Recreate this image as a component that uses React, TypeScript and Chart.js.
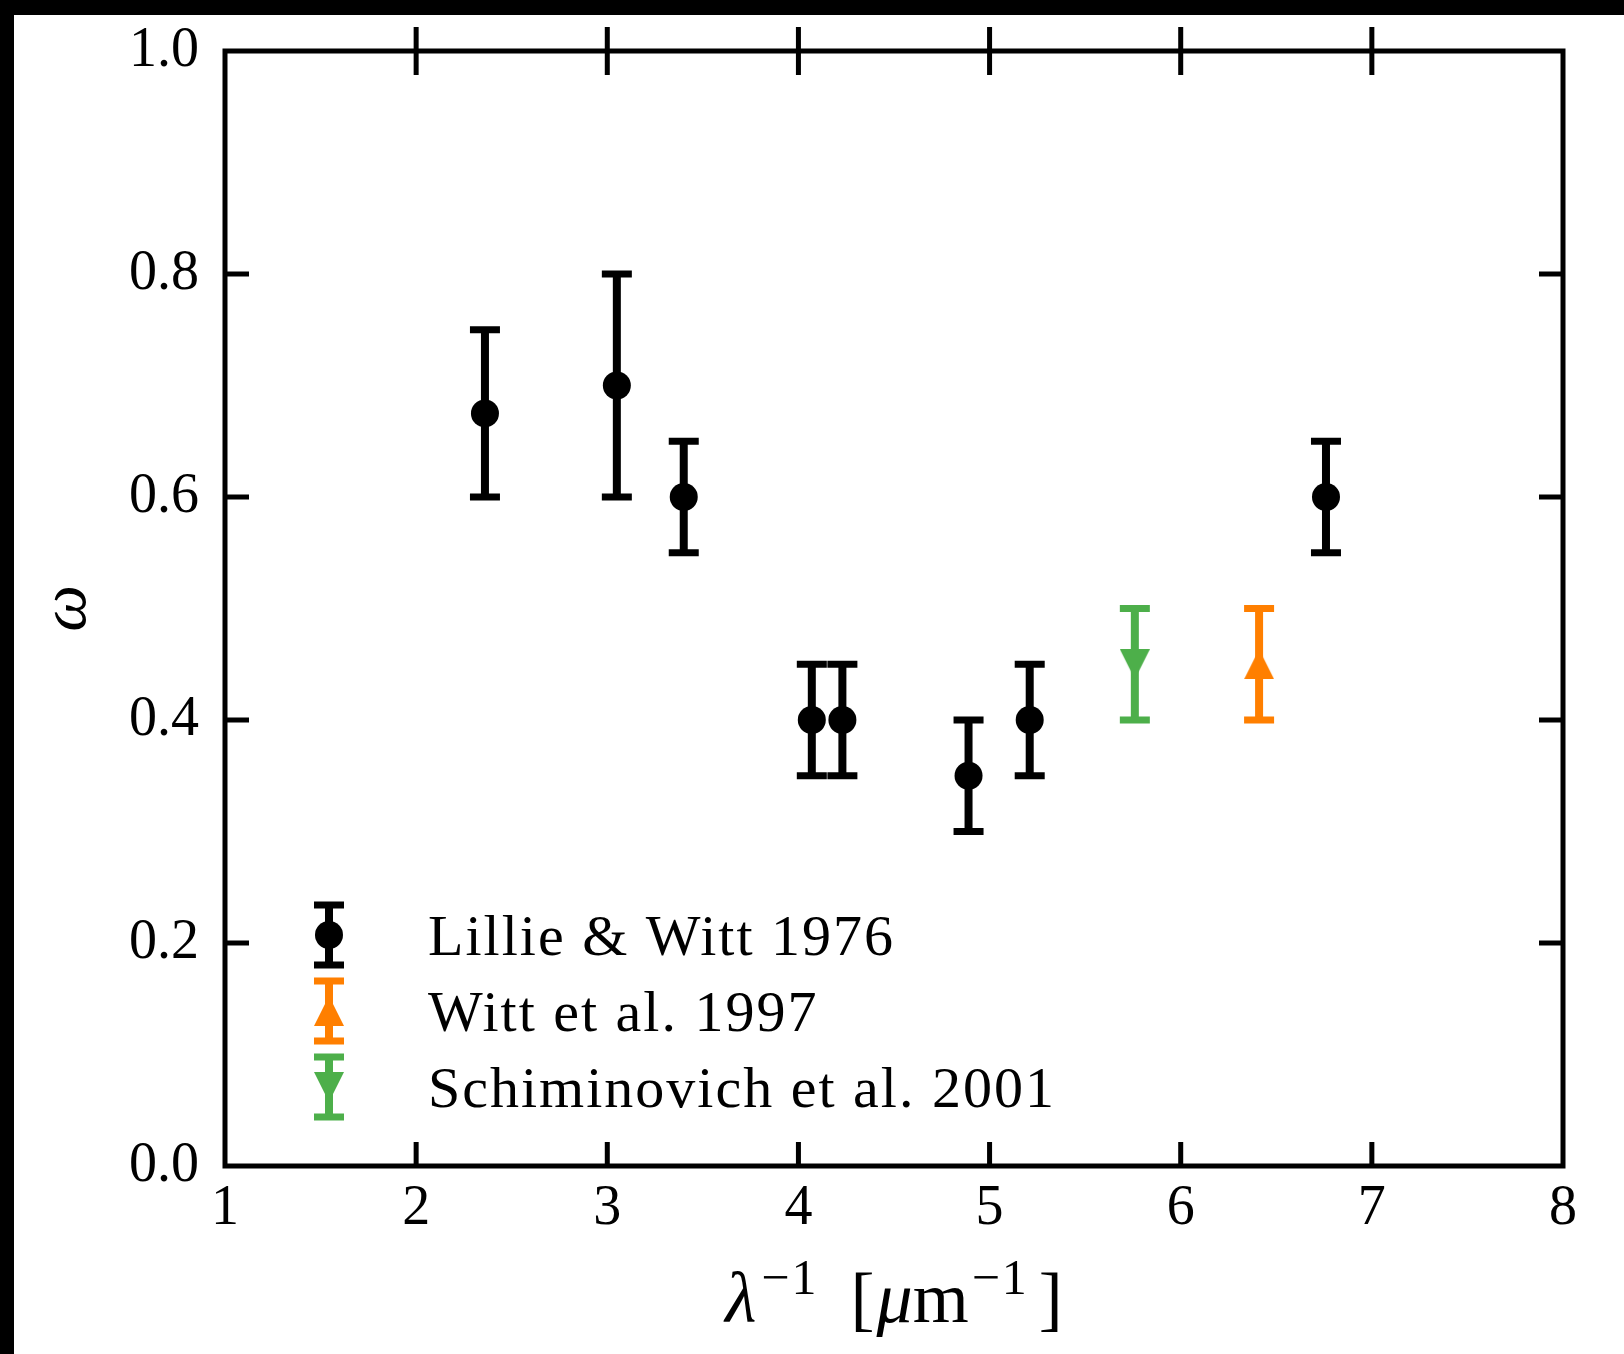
import React, { useEffect, useRef } from "react";
import { Chart, registerables } from "chart.js";

Chart.register(...registerables);

// ---- data ----
const xTickValues = [1, 2, 3, 4, 5, 6, 7, 8];
const yTickValues = [0, 0.2, 0.4, 0.6, 0.8, 1.0];

const lillieX = [2.36, 3.05, 3.4, 4.07, 4.23, 4.89, 5.21, 6.76];
const lillieY = [0.675, 0.7, 0.6, 0.4, 0.4, 0.35, 0.4, 0.6];
const lillieErr = [0.075, 0.1, 0.05, 0.05, 0.05, 0.05, 0.05, 0.05];

const wittX = [6.41];
const wittY = [0.45];
const wittErr = [0.05];

const schX = [5.76];
const schY = [0.45];
const schErr = [0.05];

const seriesLabels = ["Lillie & Witt 1976", "Witt et al. 1997", "Schiminovich et al. 2001"];

const BLACK = "#000000";
const ORANGE = "#ff7f00";
const GREEN = "#4daf4a";

const FONT = '"Liberation Serif", "DejaVu Serif", serif';

// ---- styles ----
const BAR_W = 8;
const CAP_T = 7;
const CAP_HW = 15;
const DOT_R = 14;
const TRI = 30;
const SPINE_W = 5;
const TICK_LEN = 24;

function makeTri(up: boolean, color: string) {
  const c = document.createElement("canvas");
  c.width = TRI;
  c.height = TRI;
  const g = c.getContext("2d")!;
  g.fillStyle = color;
  g.beginPath();
  if (up) {
    g.moveTo(TRI / 2, 0);
    g.lineTo(TRI, TRI);
    g.lineTo(0, TRI);
  } else {
    g.moveTo(0, 0);
    g.lineTo(TRI, 0);
    g.lineTo(TRI / 2, TRI);
  }
  g.closePath();
  g.fill();
  return c;
}

function zip(xs: number[], ys: number[]) {
  return xs.map((x, i) => ({ x, y: ys[i] }));
}

function drawErrorBar(ctx: CanvasRenderingContext2D, px: number, top: number, bot: number, color: string) {
  ctx.save();
  ctx.strokeStyle = color;
  ctx.lineCap = "butt";
  ctx.lineWidth = BAR_W;
  ctx.beginPath();
  ctx.moveTo(px, top);
  ctx.lineTo(px, bot);
  ctx.stroke();
  ctx.lineWidth = CAP_T;
  ctx.beginPath();
  ctx.moveTo(px - CAP_HW, top);
  ctx.lineTo(px + CAP_HW, top);
  ctx.moveTo(px - CAP_HW, bot);
  ctx.lineTo(px + CAP_HW, bot);
  ctx.stroke();
  ctx.restore();
}

const errorBarPlugin = {
  id: "errorBars",
  beforeDatasetsDraw(chart: any) {
    const { ctx, scales } = chart;
    const xs = scales.x;
    const ys = scales.y;
    chart.data.datasets.forEach((ds: any) => {
      ds.data.forEach((p: any, i: number) => {
        const e = ds.errors[i];
        drawErrorBar(
          ctx,
          xs.getPixelForValue(p.x),
          ys.getPixelForValue(p.y + e),
          ys.getPixelForValue(p.y - e),
          ds.errColor
        );
      });
    });
  },
};

const framePlugin = {
  id: "frame",
  afterDraw(chart: any) {
    const { ctx, chartArea, scales } = chart;
    const { left, right, top, bottom } = chartArea;
    ctx.save();
    ctx.strokeStyle = "#000";
    ctx.lineWidth = SPINE_W;
    ctx.lineCap = "butt";
    ctx.beginPath();
    xTickValues.forEach((v) => {
      if (v <= xTickValues[0] || v >= xTickValues[xTickValues.length - 1]) return;
      const px = scales.x.getPixelForValue(v);
      ctx.moveTo(px, bottom);
      ctx.lineTo(px, bottom - TICK_LEN);
      ctx.moveTo(px, top - TICK_LEN);
      ctx.lineTo(px, top + TICK_LEN);
    });
    yTickValues.forEach((v) => {
      if (v <= yTickValues[0] || v >= yTickValues[yTickValues.length - 1]) return;
      const py = scales.y.getPixelForValue(v);
      ctx.moveTo(left, py);
      ctx.lineTo(left + TICK_LEN, py);
      ctx.moveTo(right, py);
      ctx.lineTo(right - TICK_LEN, py);
    });
    ctx.stroke();
    ctx.lineJoin = "miter";
    ctx.strokeRect(left, top, right - left, bottom - top);
    ctx.restore();
  },
};

const xTitlePlugin = {
  id: "xTitle",
  afterDraw(chart: any) {
    const { ctx, chartArea } = chart;
    const main = 72;
    const sup = 50;
    const supRise = 28;
    const pieces: { t: string; f: string; dy: number; gap: number; ls: number }[] = [
      { t: "λ", f: `italic ${main}px ${FONT}`, dy: 0, gap: 0, ls: 0 },
      { t: "−1", f: `${sup}px ${FONT}`, dy: -supRise, gap: 5, ls: 2 },
      { t: "[", f: `${main}px ${FONT}`, dy: 0, gap: 32, ls: 0 },
      { t: "μ", f: `italic ${main}px ${FONT}`, dy: 0, gap: 2, ls: 0 },
      { t: "m", f: `${main}px ${FONT}`, dy: 0, gap: 0, ls: 0 },
      { t: "−1", f: `${sup}px ${FONT}`, dy: -supRise, gap: 3, ls: 2 },
      { t: "]", f: `${main}px ${FONT}`, dy: 0, gap: 10, ls: 0 },
    ];
    ctx.save();
    let total = 0;
    const widths = pieces.map((p) => {
      ctx.font = p.f;
      (ctx as any).letterSpacing = `${p.ls}px`;
      const w = ctx.measureText(p.t).width;
      total += w + p.gap;
      return w;
    });
    const cx = (chartArea.left + chartArea.right) / 2;
    let x = cx - total / 2;
    const baseline = 1307;
    ctx.fillStyle = "#000";
    ctx.textBaseline = "alphabetic";
    ctx.textAlign = "left";
    pieces.forEach((p, i) => {
      x += p.gap;
      ctx.font = p.f;
      (ctx as any).letterSpacing = `${p.ls}px`;
      ctx.fillText(p.t, x, baseline + p.dy);
      x += widths[i];
    });
    (ctx as any).letterSpacing = "0px";
    ctx.restore();
  },
};

function makeLegendPlugin(markers: { kind: string; color: string; img?: HTMLCanvasElement }[]) {
  return {
    id: "customLegend",
    afterDraw(chart: any) {
      const { ctx } = chart;
      const hx = 315;
      const tx = 414;
      const rows = [920, 996, 1072];
      const half = 30;
      ctx.save();
      markers.forEach((m, i) => {
        const cy = rows[i];
        drawErrorBar(ctx, hx, cy - half, cy + half, m.color);
        if (m.kind === "circle") {
          ctx.fillStyle = m.color;
          ctx.beginPath();
          ctx.arc(hx, cy, DOT_R, 0, Math.PI * 2);
          ctx.fill();
        } else if (m.img) {
          ctx.drawImage(m.img, hx - TRI / 2, cy - TRI / 2);
        }
        ctx.fillStyle = "#000";
        ctx.font = `58px ${FONT}`;
        (ctx as any).letterSpacing = "2px";
        ctx.textBaseline = "alphabetic";
        ctx.textAlign = "left";
        ctx.fillText(seriesLabels[i], tx, cy + 20);
        (ctx as any).letterSpacing = "0px";
      });
      ctx.restore();
    },
  };
}

export default function App() {
  const ref = useRef<HTMLCanvasElement>(null);

  useEffect(() => {
    const canvas = ref.current!;
    const triUp = makeTri(true, ORANGE);
    const triDown = makeTri(false, GREEN);

    const chart = new Chart(canvas, {
      type: "scatter",
      data: {
        datasets: [
          {
            label: seriesLabels[0],
            data: zip(lillieX, lillieY),
            errors: lillieErr,
            errColor: BLACK,
            pointStyle: "circle",
            pointRadius: DOT_R,
            backgroundColor: BLACK,
            borderWidth: 0,
          } as any,
          {
            label: seriesLabels[1],
            data: zip(wittX, wittY),
            errors: wittErr,
            errColor: ORANGE,
            pointStyle: triUp,
            pointRadius: TRI / 2,
            backgroundColor: ORANGE,
            borderWidth: 0,
          } as any,
          {
            label: seriesLabels[2],
            data: zip(schX, schY),
            errors: schErr,
            errColor: GREEN,
            pointStyle: triDown,
            pointRadius: TRI / 2,
            backgroundColor: GREEN,
            borderWidth: 0,
          } as any,
        ],
      },
      options: {
        responsive: false,
        animation: false,
        devicePixelRatio: 1,
        layout: { padding: { top: 36, right: 61, left: 0, bottom: 0 } },
        plugins: {
          legend: { display: false },
          tooltip: { enabled: false },
        },
        scales: {
          x: {
            type: "linear",
            min: 1,
            max: 8,
            grid: { display: false, drawTicks: false },
            border: { display: false },
            ticks: {
              stepSize: 1,
              padding: 10,
              color: "#000",
              font: { family: FONT, size: 56 },
              callback: (v: any) => String(v),
            },
            afterFit: (s: any) => {
              s.height = 188;
              s.paddingLeft = 0;
              s.paddingRight = 0;
            },
          },
          y: {
            type: "linear",
            min: 0,
            max: 1,
            grid: { display: false, drawTicks: false },
            border: { display: false },
            ticks: {
              stepSize: 0.2,
              padding: 26,
              color: "#000",
              font: { family: FONT, size: 56 },
              callback: (v: any) => Number(v).toFixed(1),
            },
            title: {
              display: true,
              text: "ω",
              color: "#000",
              font: { family: FONT, size: 66, style: "italic" },
              padding: { top: 14, bottom: 0 },
            },
            afterFit: (s: any) => {
              s.width = 211;
              s.paddingTop = 0;
              s.paddingBottom = 0;
            },
          },
        },
      },
      plugins: [
        errorBarPlugin,
        framePlugin,
        xTitlePlugin,
        makeLegendPlugin([
          { kind: "circle", color: BLACK },
          { kind: "tri", color: ORANGE, img: triUp },
          { kind: "tri", color: GREEN, img: triDown },
        ]),
      ],
    } as any);

    return () => chart.destroy();
  }, []);

  return (
    <div
      style={{
        position: "fixed",
        left: 0,
        top: 0,
        width: 1624,
        height: 1354,
        background: "#000",
        overflow: "hidden",
      }}
    >
      <canvas
        ref={ref}
        width={1610}
        height={1339}
        style={{
          position: "absolute",
          left: 14,
          top: 15,
          width: 1610,
          height: 1339,
          background: "#fff",
        }}
      />
    </div>
  );
}
